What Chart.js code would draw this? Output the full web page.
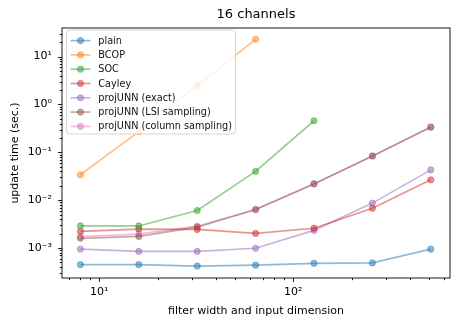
<!DOCTYPE html>
<html>
<head>
<meta charset="utf-8">
<script src="https://cdn.jsdelivr.net/npm/chart.js@4"></script>
<style>
  body { margin: 0; background: #fff; }
  #wrap { width: 460px; height: 327px; }
</style>
</head>
<body>
<div id="wrap"><canvas id="chart" width="460" height="327"></canvas></div>
<script>
// ===== DATA =====
const sizes   = [8, 16, 32, 64, 128, 256, 512]
const plain   = [4.5e-4, 4.5e-4, 4.2e-4, 4.4e-4, 4.8e-4, 4.9e-4, 9.5e-4]
const bcop    = [0.034, 0.27, 2.5, 23]
const soc     = [2.9e-3, 2.9e-3, 6.1e-3, 0.040, 0.457]
const cayley  = [2.23e-3, 2.49e-3, 2.45e-3, 2.02e-3, 2.6e-3, 6.8e-3, 0.0266]
const exact   = [9.5e-4, 8.5e-4, 8.5e-4, 9.9e-4, 2.34e-3, 8.7e-3, 0.043]
const lsi     = [1.6e-3, 1.75e-3, 2.73e-3, 6.4e-3, 0.0219, 0.084, 0.338]
const column  = [1.73e-3, 1.96e-3, 2.87e-3, 6.4e-3, 0.022, 0.083, 0.335]

const seriesNames = ["plain", "BCOP", "SOC", "Cayley", "projUNN (exact)", "projUNN (LSI sampling)", "projUNN (column sampling)"]
const seriesData  = [plain, bcop, soc, cayley, exact, lsi, column]
const seriesRGB   = ["31,119,180", "255,127,14", "44,160,44", "214,39,40", "148,103,189", "140,86,75", "227,119,194"]

const xMajorTicks  = [10, 100]
const xTickLabels  = ["10¹", "10²"]
const yMajorTicks  = [1e-3, 1e-2, 1e-1, 1, 10]
const yTickLabels  = ["10⁻³", "10⁻²", "10⁻¹", "10⁰", "10¹"]

const FONT = "'DejaVu Sans', sans-serif"

// ===== HELPERS =====
const sameLog = (a, b) => Math.abs(Math.log10(a) - Math.log10(b)) < 1e-6
const isMajor = (v, majors) => majors.some(m => sameLog(v, m))

// decade + minor ticks (1..9 x 10^n) inside the scale range
function logTicks(scale, majors) {
  const out = []
  const first = majors[0] / 10
  for (let d = first; d <= majors[majors.length - 1] * 10; d *= 10) {
    for (let k = 1; k < 10; k++) {
      const v = d * k
      if (v >= scale.min && v <= scale.max) out.push({ value: v })
    }
  }
  scale.ticks = out
}

function labelFor(v, majors, labels) {
  const i = majors.findIndex(m => sameLog(v, m))
  return i >= 0 ? labels[i] : ""
}

// ===== PLUGINS =====
// legend drawn inside the plot, over the lines, like matplotlib's
const legendBox = {
  id: "legendBox",
  afterDatasetsDraw(chart) {
    const ctx = chart.ctx
    const x0 = 66.5, y0 = 30, w = 169, h = 104, r = 3
    ctx.save()
    ctx.beginPath()
    ctx.roundRect(x0, y0, w, h, r)
    ctx.fillStyle = "rgba(255,255,255,0.82)"
    ctx.fill()
    ctx.strokeStyle = "rgba(204,204,204,0.8)"
    ctx.lineWidth = 1
    ctx.stroke()
    ctx.font = "9.7px " + FONT
    ctx.textBaseline = "middle"
    chart.data.datasets.forEach((ds, i) => {
      const yy = 40.6 + i * 14.3
      ctx.strokeStyle = ds.borderColor
      ctx.lineWidth = 1.67
      ctx.beginPath()
      ctx.moveTo(70.5, yy)
      ctx.lineTo(90.5, yy)
      ctx.stroke()
      ctx.beginPath()
      ctx.arc(80.5, yy, 3.1, 0, Math.PI * 2)
      ctx.fillStyle = ds.pointBackgroundColor
      ctx.fill()
      ctx.lineWidth = 1
      ctx.strokeStyle = ds.pointBorderColor
      ctx.stroke()
      ctx.fillStyle = "#111"
      ctx.fillText(ds.label, 98.3, yy + 0.5)
    })
    ctx.restore()
  }
}

// box frame + outward major/minor ticks
const frameAndTicks = {
  id: "frameAndTicks",
  afterDraw(chart) {
    const { ctx, chartArea: a, scales: { x, y } } = chart
    ctx.save()
    ctx.strokeStyle = "#000"
    ctx.lineWidth = 0.9
    ctx.strokeRect(a.left, a.top, a.right - a.left, a.bottom - a.top)
    ctx.beginPath()
    x.ticks.forEach(t => {
      const px = Math.round(x.getPixelForValue(t.value)) + 0.5
      const len = isMajor(t.value, xMajorTicks) ? 3.9 : 2.2
      ctx.moveTo(px, a.bottom)
      ctx.lineTo(px, a.bottom + len)
    })
    y.ticks.forEach(t => {
      const py = Math.round(y.getPixelForValue(t.value)) + 0.5
      const len = isMajor(t.value, yMajorTicks) ? 3.9 : 2.2
      ctx.moveTo(a.left, py)
      ctx.lineTo(a.left - len, py)
    })
    ctx.stroke()
    ctx.restore()
  }
}

// ===== CHART =====
const datasets = seriesData.map((vals, i) => ({
  label: seriesNames[i],
  data: vals.map((v, j) => ({ x: sizes[j], y: v })),
  borderColor: `rgba(${seriesRGB[i]},0.5)`,
  backgroundColor: `rgba(${seriesRGB[i]},0.5)`,
  pointBackgroundColor: `rgba(${seriesRGB[i]},0.5)`,
  pointBorderColor: `rgba(${seriesRGB[i]},0.5)`,
  borderWidth: 1.67,
  pointRadius: 3.1,
  pointBorderWidth: 1,
  tension: 0
}))

new Chart(document.getElementById("chart"), {
  type: "line",
  data: { datasets },
  plugins: [legendBox, frameAndTicks],
  options: {
    responsive: false,
    animation: false,
    layout: { padding: { left: 0, right: 10, top: 0, bottom: 0 } },
    plugins: {
      legend: { display: false },
      tooltip: { enabled: false },
      title: {
        display: true,
        text: "16 channels",
        fullSize: false,
        color: "#000",
        font: { family: FONT, size: 13, weight: "normal" },
        padding: { top: 7, bottom: 5.4 }
      }
    },
    scales: {
      x: {
        type: "logarithmic",
        min: 6.43,
        max: 643,
        grid: { display: false, drawTicks: false },
        border: { display: false },
        afterBuildTicks: s => logTicks(s, xMajorTicks),
        afterFit: s => { s.height = 49 },
        ticks: {
          autoSkip: false,
          maxRotation: 0,
          padding: 8,
          color: "#000",
          font: { family: FONT, size: 11 },
          callback: v => labelFor(v, xMajorTicks, xTickLabels)
        },
        title: {
          display: true,
          text: "filter width and input dimension",
          color: "#000",
          font: { family: FONT, size: 11 },
          padding: { top: 0, bottom: 9.7 }
        }
      },
      y: {
        type: "logarithmic",
        min: 2.37e-4,
        max: 39.6,
        grid: { display: false, drawTicks: false },
        border: { display: false },
        afterBuildTicks: s => logTicks(s, yMajorTicks),
        afterFit: s => { s.width = 62 },
        ticks: {
          autoSkip: false,
          padding: 10,
          color: "#000",
          font: { family: FONT, size: 11 },
          callback: v => labelFor(v, yMajorTicks, yTickLabels)
        },
        title: {
          display: true,
          text: "update time (sec.)",
          color: "#000",
          font: { family: FONT, size: 11 },
          padding: { top: 8.4, bottom: 0 }
        }
      }
    }
  }
})
</script>
</body>
</html>
